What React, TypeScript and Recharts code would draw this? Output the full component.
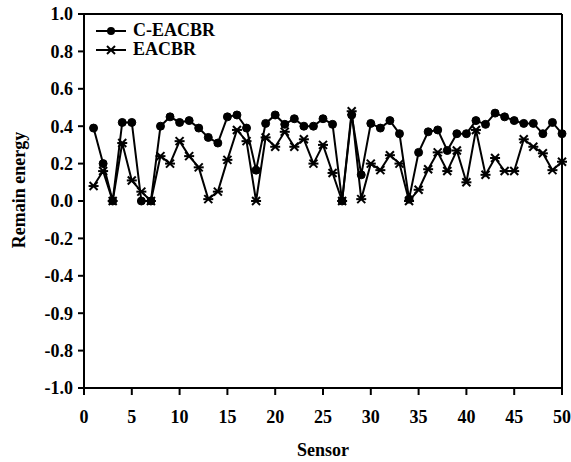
import React from "react";
import { LineChart, Line, XAxis, YAxis, ReferenceLine } from "recharts";

// sensor ids along the x axis
const sensors = [
  1, 2, 3, 4, 5, 6, 7, 8, 9, 10, 11, 12, 13, 14, 15, 16, 17, 18, 19, 20, 21,
  22, 23, 24, 25, 26, 27, 28, 29, 30, 31, 32, 33, 34, 35, 36, 37, 38, 39, 40,
  41, 42, 43, 44, 45, 46, 47, 48, 49, 50,
];

// remaining energy per sensor
const cEacbr = [
  0.39, 0.2, 0.0, 0.42, 0.42, 0.0, 0.0, 0.4, 0.45, 0.42, 0.43, 0.39, 0.34,
  0.31, 0.45, 0.46, 0.39, 0.165, 0.415, 0.46, 0.41, 0.44, 0.4, 0.4, 0.44, 0.41,
  0.0, 0.46, 0.14, 0.415, 0.39, 0.43, 0.36, 0.01, 0.26, 0.37, 0.38, 0.27, 0.36,
  0.36, 0.43, 0.41, 0.47, 0.45, 0.43, 0.415, 0.415, 0.36, 0.42, 0.36,
];

const eacbr = [
  0.08, 0.16, 0.0, 0.31, 0.11, 0.05, 0.0, 0.24, 0.2, 0.32, 0.24, 0.18, 0.01,
  0.05, 0.22, 0.38, 0.32, 0.0, 0.34, 0.29, 0.37, 0.29, 0.33, 0.2, 0.3, 0.15,
  0.0, 0.48, 0.01, 0.2, 0.165, 0.245, 0.2, 0.0, 0.06, 0.17, 0.26, 0.16, 0.27,
  0.1, 0.38, 0.14, 0.23, 0.16, 0.16, 0.33, 0.29, 0.255, 0.165, 0.21,
];

const xTicks = [0, 5, 10, 15, 20, 25, 30, 35, 40, 45, 50];
const yTicks = [-1, -0.8, -0.6, -0.4, -0.2, 0, 0.2, 0.4, 0.6, 0.8, 1];
// labels as printed in the original figure (bottom to top)
const yTickLabels = [
  "-1.0", "-0.8", "-0.9", "-0.4", "-0.2", "0.0", "0.2", "0.4", "0.6", "0.8", "1.0",
];

const data = sensors.map((s, i) => ({
  sensor: s,
  "C-EACBR": cEacbr[i],
  EACBR: eacbr[i],
}));

const FONT = "Liberation Serif";

const StarDot = (props: any) => {
  const { cx, cy } = props;
  if (cx == null || cy == null) return null;
  const s = 4;
  return (
    <g stroke="#000" strokeWidth={2}>
      <line x1={cx - s} y1={cy - s} x2={cx + s} y2={cy + s} />
      <line x1={cx - s} y1={cy + s} x2={cx + s} y2={cy - s} />
      <line x1={cx - s - 1} y1={cy} x2={cx + s + 1} y2={cy} />
    </g>
  );
};

const LegendBox = () => (
  <div
    style={{
      position: "absolute",
      top: 21,
      left: 95,
      fontFamily: FONT,
      fontWeight: "bold",
      fontSize: 18,
      color: "#000",
    }}
  >
    {["C-EACBR", "EACBR"].map((name) => (
      <div key={name} style={{ display: "flex", alignItems: "center", height: 19 }}>
        <svg width={32} height={14} style={{ marginRight: 6 }}>
          <line x1={1} y1={7} x2={31} y2={7} stroke="#000" strokeWidth={2} />
          {name === "C-EACBR" ? (
            <circle cx={16} cy={7} r={4} fill="#000" />
          ) : (
            <StarDot cx={16} cy={7} />
          )}
        </svg>
        <span style={{ lineHeight: "19px" }}>{name}</span>
      </div>
    ))}
  </div>
);

const axisStyle = { stroke: "#000", strokeWidth: 2 };
const tickStyle = { fill: "#000", fontSize: 18, fontWeight: "bold", fontFamily: FONT };

export default function App() {
  return (
    <div style={{ position: "relative", width: 571, height: 462, background: "#fff", fontFamily: FONT }}>
      <style>{`body{margin:0}`}</style>
      <LineChart
        width={571}
        height={462}
        data={data}
        margin={{ top: 14, right: 9, left: 0, bottom: 0 }}
        style={{ fontFamily: FONT }}
      >
        <XAxis
          dataKey="sensor"
          type="number"
          domain={[0, 50]}
          ticks={xTicks}
          interval={0}
          height={74}
          tickSize={7}
          tickMargin={15}
          axisLine={axisStyle}
          tickLine={axisStyle}
          tick={tickStyle}
          label={{
            content: (p: any) => (
              <text
                x={p.viewBox.x + p.viewBox.width / 2}
                y={456}
                textAnchor="middle"
                fontFamily={FONT}
                fontSize={18}
                fontWeight="bold"
                fill="#000"
              >
                Sensor
              </text>
            ),
          }}
        />
        <YAxis
          type="number"
          domain={[-1, 1]}
          ticks={yTicks}
          interval={0}
          width={84}
          tickSize={6}
          tickMargin={5}
          axisLine={axisStyle}
          tickLine={axisStyle}
          tick={tickStyle}
          tickFormatter={(v: number) => yTickLabels[yTicks.indexOf(v)] ?? String(v)}
          label={{
            content: () => (
              <text
                x={0}
                y={0}
                transform="translate(25, 190) rotate(-90)"
                textAnchor="middle"
                fontFamily={FONT}
                fontSize={18}
                fontWeight="bold"
                fill="#000"
              >
                Remain energy
              </text>
            ),
          }}
        />
        <ReferenceLine y={1} stroke="#000" strokeWidth={2} />
        <ReferenceLine x={50} stroke="#000" strokeWidth={2} />
        <Line
          dataKey="C-EACBR"
          stroke="#000"
          strokeWidth={2}
          dot={{ r: 4, fill: "#000", stroke: "#000", strokeWidth: 1 }}
          isAnimationActive={false}
        />
        <Line
          dataKey="EACBR"
          stroke="#000"
          strokeWidth={2}
          dot={(p: any) => <StarDot key={p.index} {...p} />}
          isAnimationActive={false}
        />
      </LineChart>
      <LegendBox />
    </div>
  );
}
